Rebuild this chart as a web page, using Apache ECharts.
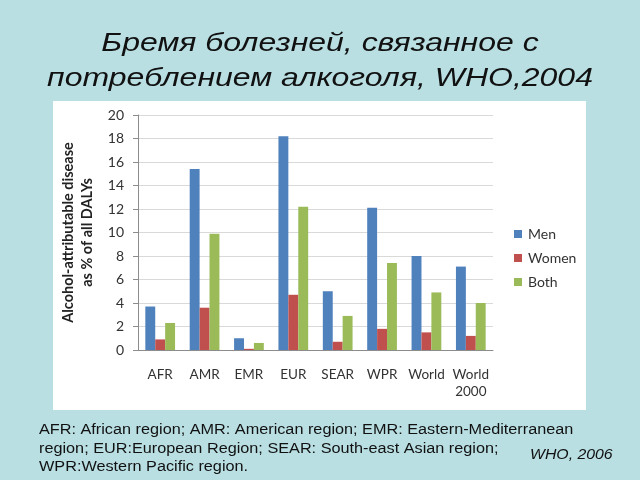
<!DOCTYPE html>
<html>
<head>
<meta charset="utf-8">
<script src="https://cdn.jsdelivr.net/npm/echarts@6/dist/echarts.min.js"></script>
<style>
html,body{margin:0;padding:0;background:#b9dfe3;}
#c{width:640px;height:480px;}
</style>
</head>
<body>
<div id="c"></div>
<script>
var categories = ['AFR', 'AMR', 'EMR', 'EUR', 'SEAR', 'WPR', 'World', 'World\n2000'];
var men   = [3.7, 15.4, 1.0, 18.2, 5.0, 12.1, 8.0, 7.1];
var women = [0.9, 3.6, 0.1, 4.7, 0.7, 1.8, 1.5, 1.2];
var both  = [2.3, 9.9, 0.6, 12.2, 2.9, 7.4, 4.9, 4.0];
var seriesNames = ['Men', 'Women', 'Both'];
var yTicks = [0, 2, 4, 6, 8, 10, 12, 14, 16, 18, 20];

var chart = echarts.init(document.getElementById('c'), null, {renderer: 'canvas'});
var font = 'Lato, "Open Sans", sans-serif';
var colors = ['#4f81bd', '#c0504d', '#9bbb59'];
var values = [men, women, both];

chart.setOption({
  backgroundColor: '#b9dfe3',
  animation: false,
  color: colors,
  graphic: [
    {type: 'rect', z: -10, shape: {x: 53, y: 101, width: 533, height: 309}, style: {fill: '#ffffff'}},
    {type: 'text', x: 320, y: 26, scaleX: 1.23, style: {
      x: 0, y: 0, align: 'center', verticalAlign: 'top',
      text: 'Бремя болезней, связанное с\nпотреблением алкоголя, WHO,2004',
      font: 'italic 26px "Liberation Sans", Arial, sans-serif', fill: '#111', lineHeight: 35}},
    {type: 'text', x: 39, y: 421, scaleX: 1.16, style: {
      x: 0, y: 0, align: 'left', verticalAlign: 'top',
      text: 'AFR: African region; AMR: American region; EMR: Eastern-Mediterranean\nregion; EUR:European Region; SEAR: South-east Asian region;\nWPR:Western Pacific region.',
      font: '14px "Liberation Sans", Arial, sans-serif', fill: '#111', lineHeight: 18.5}},
    {type: 'text', x: 530, y: 448, scaleX: 1.13, style: {
      x: 0, y: 0, align: 'left', verticalAlign: 'top',
      text: 'WHO, 2006', font: 'italic 14px "Liberation Sans", Arial, sans-serif', fill: '#111'}}
  ],
  legend: {
    orient: 'vertical',
    left: 509,
    top: 222,
    itemWidth: 8,
    itemHeight: 8,
    itemGap: 10,
    icon: 'rect',
    data: seriesNames,
    textStyle: {fontFamily: font, fontSize: 14, color: '#333', padding: [0, 0, 0, 1]}
  },
  grid: {left: 138, right: 147, top: 115, bottom: 130},
  xAxis: {
    type: 'category',
    data: categories,
    axisLine: {lineStyle: {color: '#8c8c8c'}},
    axisTick: {length: 5, lineStyle: {color: '#8c8c8c'}},
    axisLabel: {fontFamily: font, fontSize: 13.5, color: '#333', margin: 16, lineHeight: 17, interval: 0}
  },
  yAxis: {
    type: 'value',
    min: 0, max: 20, interval: 2,
    name: 'Alcohol-attributable disease\nas % of all DALYs',
    nameLocation: 'middle',
    nameGap: 36,
    nameTextStyle: {fontFamily: font, fontWeight: 'bold', fontSize: 14.5, color: '#222', lineHeight: 19},
    axisLine: {show: true, lineStyle: {color: '#8c8c8c'}},
    axisTick: {show: true, length: 5, lineStyle: {color: '#8c8c8c'}},
    axisLabel: {fontFamily: font, fontSize: 14, color: '#333', margin: 14,
      formatter: function (v) { return yTicks.indexOf(v) >= 0 ? String(v) : ''; }},
    splitLine: {lineStyle: {color: '#d9d9d9'}}
  },
  series: seriesNames.map(function (n, i) {
    return {
      name: n, type: 'bar', data: values[i],
      barGap: '0%', barCategoryGap: '33%',
      itemStyle: {color: colors[i]}
    };
  })
});
</script>
</body>
</html>
